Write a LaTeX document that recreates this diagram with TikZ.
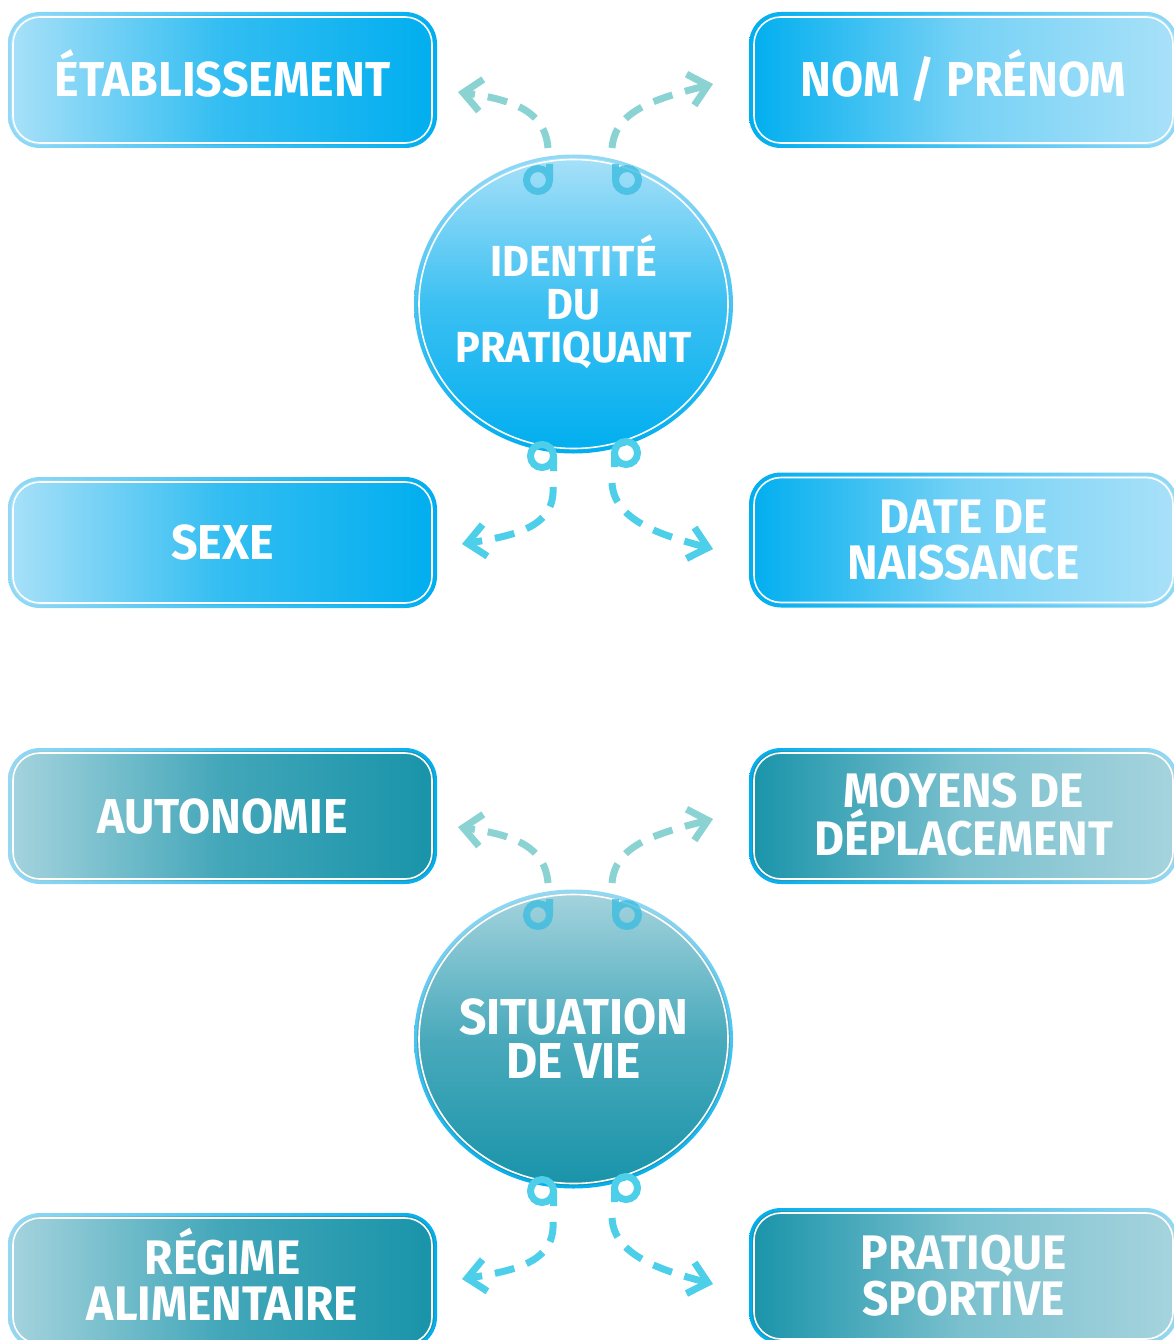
\documentclass[tikz,border=0pt]{standalone}
\usepackage{fontspec}
\newfontfamily\tagfont[FakeStretch=0.95]{Fira Sans}
\newcommand{\TgBig}{\tagfont\bfseries\fontsize{49}{46}\selectfont}
\newcommand{\TgMid}{\tagfont\bfseries\fontsize{48.5}{46}\selectfont}
\newcommand{\TgHub}{\tagfont\bfseries\fontsize{43.5}{43}\selectfont}
\newcommand{\TgVie}{\tagfont\bfseries\fontsize{50.5}{44}\selectfont}
\usetikzlibrary{arrows.meta,
	shapes.geometric
}
\definecolor{idlight}{HTML}{A9E1F8}
\definecolor{iddark}{HTML}{00AEEF}
\definecolor{vielight}{HTML}{A6D4DE}
\definecolor{viedark}{HTML}{1893A9}
\definecolor{rimlight}{HTML}{93D9F5}
\definecolor{rimdark}{HTML}{00AEEF}
\definecolor{dashtop}{HTML}{8BD2D3}
\definecolor{dashbot}{HTML}{4DCFEA}
\definecolor{ringcol}{HTML}{3DBDE0}
\tikzset{
	tagbox/.style n args={4}{rectangle, rounded corners=32pt,
		minimum width=429pt, minimum height=136pt,
		inner sep=0pt, outer sep=0pt, text=white, align=center,
		left color=#3, right color=#4,
		path picture={
			\shade[rounded corners=29pt, left color=#1, right color=#2, middle color=#1!30!#2]
				([shift={(3pt,3pt)}]path picture bounding box.south west) rectangle
				([shift={(-3pt,-3pt)}]path picture bounding box.north east);
			\draw[white, line width=1.6pt, rounded corners=27pt]
				([shift={(5pt,5pt)}]path picture bounding box.south west) rectangle
				([shift={(-5pt,-5pt)}]path picture bounding box.north east);
		}
	},
	leftbox/.style = {tagbox={#1light}{#1dark}{rimlight}{rimdark}},
	rightbox/.style = {tagbox={#1dark}{#1light}{rimdark}{rimlight}},
	hub/.style = {ellipse, minimum width=319pt, minimum height=299pt,
		inner sep=-40pt, outer sep=0pt, text=white, align=center,
		top color=rimlight, bottom color=rimdark,
		path picture={
			\shade[top color=#1light, bottom color=#1dark, middle color=#1light!35!#1dark]
				(path picture bounding box.center) ellipse [x radius=156.5pt, y radius=146.5pt];
			\draw[white, line width=1.6pt]
				(path picture bounding box.center) ellipse [x radius=154.5pt, y radius=144.5pt];
		}
	},
	% caps are centred: text height runs from the top line to the last baseline
	oneline/.style = {font=\TgBig, text height=34pt, text depth=0pt},
	twoline/.style = {font=\TgMid, text height=79pt, text depth=0pt},
	ring/.style = {draw=ringcol, line width=7pt, opacity=.8},
	ringlow/.style = {draw=dashbot, line width=7pt},
	link/.style = {draw=#1, line width=7pt, dash pattern=on 20pt off 13pt,
		-{Straight Barb[length=18pt, width=32pt]}}
}

\begin{document}
\begin{tikzpicture}[x=1pt, y=1pt]
	\useasboundingbox (0,0) rectangle (1173,-1340);

	% identite
	\begin{scope}
		\node[hub=id, font=\TgHub, text height=116pt, text depth=0pt] (Id0) at (573.5,-304)
			{IDENTITÉ\\DU\\PRATIQUANT};
		\node[leftbox=id, oneline] (Id1) at (222.5,-80) {ÉTABLISSEMENT};
		\node[rightbox=id, oneline] (Id2) at (963.5,-80) {NOM / PRÉNOM};
		\node[leftbox=id, oneline, minimum height=131pt] (Id3) at (222.5,-542.5) {SEXE};
		\node[rightbox=id, twoline, minimum height=135pt] (Id4) at (963.5,-540) {DATE DE\\NAISSANCE};

		\coordinate (Id1r) at (538,-180);
		\coordinate (Id2r) at (627,-180);
		\coordinate (Id3r) at (542,-456);
		\coordinate (Id4r) at (626,-453);
		\draw[ring] (Id1r) circle [radius=11.5pt] ([xshift=11.5pt]Id1r) -- ++(0,16);
		\draw[ring] (Id2r) circle [radius=11.5pt] ([xshift=-11.5pt]Id2r) -- ++(0,16);
		\draw[ringlow] (Id3r) circle [radius=11.5pt] ([xshift=11.5pt]Id3r) -- ++(0,-15);
		\draw[ringlow] (Id4r) circle [radius=11.5pt] ([xshift=-11.5pt]Id4r) -- ++(0,-14);

		\coordinate (Id1s) at (548,-148);
		\coordinate (Id2s) at (612,-148);
		\coordinate (Id3s) at (553,-487);
		\coordinate (Id4s) at (612,-483);
		\coordinate (Id1t) at (458,-92);
		\coordinate (Id2t) at (713,-84);
		\coordinate (Id3t) at (462,-544);
		\coordinate (Id4t) at (713,-549);
		\draw[link=dashtop] (Id1s) .. controls +(-3,36) and +(57,-8) .. (Id1t);
		\draw[link=dashtop] (Id2s) .. controls +(3,36) and +(-63,-16) .. (Id2t);
		\draw[link=dashbot] (Id3s) .. controls +(2,-38) and +(58,9) .. (Id3t);
		\draw[link=dashbot] (Id4s) .. controls +(2,-37) and +(-53,14) .. (Id4t);
	\end{scope}

	% situation de vie
	\begin{scope}[yshift=-735pt]
		\node[hub=vie, font=\TgVie, text height=79pt, text depth=0pt] (Vie0) at (573.5,-304)
			{SITUATION\\DE VIE};
		\node[leftbox=vie, oneline] (Vie1) at (222.5,-81) {AUTONOMIE};
		\node[rightbox=vie, twoline] (Vie2) at (963.5,-81) {MOYENS DE\\DÉPLACEMENT};
		\node[leftbox=vie, twoline] (Vie3) at (222.5,-546) {RÉGIME\\ALIMENTAIRE};
		\node[rightbox=vie, twoline] (Vie4) at (963.5,-541) {PRATIQUE\\SPORTIVE};

		\coordinate (Vie1r) at (538,-180);
		\coordinate (Vie2r) at (627,-180);
		\coordinate (Vie3r) at (542,-456);
		\coordinate (Vie4r) at (626,-453);
		\draw[ring] (Vie1r) circle [radius=11.5pt] ([xshift=11.5pt]Vie1r) -- ++(0,16);
		\draw[ring] (Vie2r) circle [radius=11.5pt] ([xshift=-11.5pt]Vie2r) -- ++(0,16);
		\draw[ringlow] (Vie3r) circle [radius=11.5pt] ([xshift=11.5pt]Vie3r) -- ++(0,-15);
		\draw[ringlow] (Vie4r) circle [radius=11.5pt] ([xshift=-11.5pt]Vie4r) -- ++(0,-14);

		\coordinate (Vie1s) at (548,-148);
		\coordinate (Vie2s) at (612,-148);
		\coordinate (Vie3s) at (553,-487);
		\coordinate (Vie4s) at (612,-483);
		\coordinate (Vie1t) at (458,-92);
		\coordinate (Vie2t) at (713,-84);
		\coordinate (Vie3t) at (462,-544);
		\coordinate (Vie4t) at (713,-549);
		\draw[link=dashtop] (Vie1s) .. controls +(-3,36) and +(57,-8) .. (Vie1t);
		\draw[link=dashtop] (Vie2s) .. controls +(3,36) and +(-63,-16) .. (Vie2t);
		\draw[link=dashbot] (Vie3s) .. controls +(2,-38) and +(58,9) .. (Vie3t);
		\draw[link=dashbot] (Vie4s) .. controls +(2,-37) and +(-53,14) .. (Vie4t);
	\end{scope}
\end{tikzpicture}
\end{document}
